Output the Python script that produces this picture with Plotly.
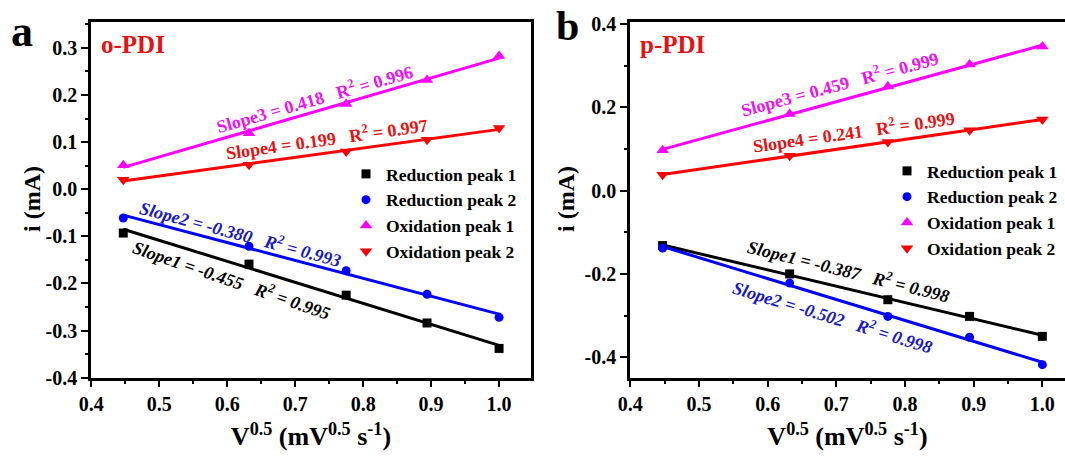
import numpy as np
import plotly.graph_objects as go

FONT = "Liberation Serif"

# ---------------- data ----------------
x_v = [0.447, 0.632, 0.775, 0.894, 1.000]

series_names = ["Reduction peak 1", "Reduction peak 2", "Oxidation peak 1", "Oxidation peak 2"]
series_colors = ["#000000", "#0000FF", "#FF00FF", "#FF0000"]
series_symbols = ["square", "circle", "triangle-up", "triangle-down"]

# panel a : o-PDI
a_red1 = [-0.093, -0.159, -0.225, -0.284, -0.338]
a_red2 = [-0.061, -0.121, -0.173, -0.223, -0.272]
a_ox1 = [0.051, 0.119, 0.181, 0.232, 0.283]
a_ox2 = [0.020, 0.052, 0.080, 0.105, 0.130]

# panel b : p-PDI
b_red1 = [-0.132, -0.200, -0.262, -0.302, -0.350]
b_red2 = [-0.138, -0.222, -0.302, -0.352, -0.418]
b_ox1 = [0.097, 0.184, 0.250, 0.303, 0.346]
b_ox2 = [0.038, 0.084, 0.117, 0.145, 0.171]

x_tickvals = [0.4, 0.5, 0.6, 0.7, 0.8, 0.9, 1.0]
x_ticktext = ["0.4", "0.5", "0.6", "0.7", "0.8", "0.9", "1.0"]
a_ytickvals = [-0.4, -0.3, -0.2, -0.1, 0.0, 0.1, 0.2, 0.3]
a_yticktext = ["-0.4", "-0.3", "-0.2", "-0.1", "0.0", "0.1", "0.2", "0.3"]
b_ytickvals = [-0.4, -0.2, 0.0, 0.2, 0.4]
b_yticktext = ["-0.4", "-0.2", "0.0", "0.2", "0.4"]

a_fit_labels = ["Slope1 = -0.455", "Slope2 = -0.380", "Slope3 = 0.418", "Slope4 = 0.199"]
a_r2 = ["0.995", "0.993", "0.996", "0.997"]
b_fit_labels = ["Slope1 = -0.387", "Slope2 = -0.502", "Slope3 = 0.459", "Slope4 = 0.241"]
b_r2 = ["0.998", "0.998", "0.999", "0.999"]

x_title = "V<sup>0.5</sup> (mV<sup>0.5</sup> s<sup>-1</sup>)"
y_title = "i (mA)"

# ---------------- geometry helpers (pixels -> plot-area fractions) ----------------
W, H = 1065, 456
M_T, M_B = 22, 78
PH = H - M_T - M_B


def py(px):
    return 1 - (px - M_T) / PH


def pxx(px):
    return px / W


# ---------------- figure ----------------
fig = go.Figure()

panels = [
    ("x", "y", "legend", [a_red1, a_red2, a_ox1, a_ox2]),
    ("x2", "y2", "legend2", [b_red1, b_red2, b_ox1, b_ox2]),
]

for xa, ya, leg, ser in panels:
    for name, col, sym, yv in zip(series_names, series_colors, series_symbols, ser):
        k, b = np.polyfit(x_v, yv, 1)
        xf = np.array([x_v[0], x_v[-1]])
        fig.add_trace(go.Scatter(x=xf, y=k * xf + b, mode="lines",
                                 line=dict(color=col, width=3),
                                 xaxis=xa, yaxis=ya, showlegend=False,
                                 hoverinfo="skip"))
    for name, col, sym, yv in zip(series_names, series_colors, series_symbols, ser):
        size = 11 if "triangle" in sym else 9
        fig.add_trace(go.Scatter(x=x_v, y=yv, mode="markers", name=name,
                                 marker=dict(color=col, symbol=sym, size=size),
                                 xaxis=xa, yaxis=ya, legend=leg))

tickfont = dict(family=FONT, size=20, color="black", weight="bold")
titlefont = dict(family=FONT, size=24, color="black", weight="bold")
xtitlefont = dict(family=FONT, size=26, color="black", weight="bold")


def xaxis_cfg(domain, rng):
    return dict(domain=domain, range=rng,
                tickmode="array", tickvals=x_tickvals, ticktext=x_ticktext,
                ticks="outside", ticklen=6, tickwidth=2, tickcolor="black",
                minor=dict(tickmode="linear", tick0=0.4, dtick=0.05, ticks="outside",
                           ticklen=3, tickwidth=2, tickcolor="black"),
                showline=True, linewidth=2.5, linecolor="black", mirror=True,
                showgrid=False, zeroline=False, tickfont=tickfont,
                title=dict(text=x_title, font=xtitlefont, standoff=14),
                automargin=False)


def yaxis_cfg(rng, tv, tt, mdt, mirror):
    return dict(domain=[0, 1], range=rng,
                tickmode="array", tickvals=tv, ticktext=tt,
                ticks="outside", ticklen=7, tickwidth=2, tickcolor="black",
                minor=dict(tickmode="linear", tick0=0, dtick=mdt, ticks="outside",
                           ticklen=3, tickwidth=2, tickcolor="black"),
                showline=True, linewidth=2.5, linecolor="black", mirror=mirror,
                showgrid=False, zeroline=False, tickfont=tickfont,
                automargin=False)


xa1 = xaxis_cfg([91 / W, 531 / W], [0.3995, 1.047])
xa1["anchor"] = "y"
xa2 = xaxis_cfg([630 / W, 1.0], [0.3995, 1.033])
xa2["anchor"] = "y2"
ya1 = yaxis_cfg([-0.4008, 0.355], a_ytickvals, a_yticktext, 0.05, True)
ya1["anchor"] = "x"
ya2 = yaxis_cfg([-0.45, 0.405], b_ytickvals, b_yticktext, 0.1, False)
ya2["anchor"] = "x2"

legfont = dict(family=FONT, size=17.5, color="black", weight="bold")

fig.update_layout(
    width=W, height=H,
    margin=dict(l=0, r=0, t=M_T, b=M_B, autoexpand=False),
    paper_bgcolor="white", plot_bgcolor="white",
    xaxis=xa1, yaxis=ya1, xaxis2=xa2, yaxis2=ya2,
    legend=dict(x=pxx(346), y=py(156), xanchor="left", yanchor="top",
                bgcolor="rgba(0,0,0,0)", font=legfont, borderwidth=0),
    legend2=dict(x=pxx(887), y=py(153), xanchor="left", yanchor="top",
                 bgcolor="rgba(0,0,0,0)", font=legfont, borderwidth=0),
    showlegend=True,
)

# ---------------- annotations ----------------
ann = []


def fit_ann(text, r2, xd, yd, ang, color, italic, xr, yr):
    body = f"{text}&nbsp;&nbsp;&nbsp;R<sup>2</sup> = {r2}"
    if italic:
        body = f"<i>{body}</i>"
    return dict(text=body, x=xd, y=yd, xref=xr, yref=yr, showarrow=False,
                textangle=ang, xanchor="center", yanchor="middle",
                font=dict(family=FONT, size=18, color=color, weight="bold"))


# panel a
ann.append(fit_ann(a_fit_labels[2], a_r2[2], 0.729, 0.192, -16, "#F010F0", False, "x", "y"))
ann.append(fit_ann(a_fit_labels[3], a_r2[3], 0.746, 0.108, -8, "#E81010", False, "x", "y"))
ann.append(fit_ann(a_fit_labels[1], a_r2[1], 0.620, -0.093, 15, "#1818C8", True, "x", "y"))
ann.append(fit_ann(a_fit_labels[0], a_r2[0], 0.606, -0.192, 19, "#000000", True, "x", "y"))
# panel b
ann.append(fit_ann(b_fit_labels[2], b_r2[2], 0.705, 0.258, -15, "#F010F0", False, "x2", "y2"))
ann.append(fit_ann(b_fit_labels[3], b_r2[3], 0.725, 0.142, -8, "#E81010", False, "x2", "y2"))
ann.append(fit_ann(b_fit_labels[0], b_r2[0], 0.717, -0.192, 14, "#000000", True, "x2", "y2"))
ann.append(fit_ann(b_fit_labels[1], b_r2[1], 0.694, -0.303, 17, "#1818C8", True, "x2", "y2"))

# y-axis titles
for xpix in (32, 566):
    ann.append(dict(text=y_title, x=pxx(xpix), y=py(199), xref="paper", yref="paper",
                    xanchor="center", yanchor="middle", textangle=-90, showarrow=False,
                    font=titlefont))

# sample labels
ann.append(dict(text="o-PDI", x=pxx(99), y=py(44), xref="paper", yref="paper",
                xanchor="left", yanchor="middle", showarrow=False,
                font=dict(family=FONT, size=25, color="#E81010", weight="bold")))
ann.append(dict(text="p-PDI", x=pxx(638), y=py(44), xref="paper", yref="paper",
                xanchor="left", yanchor="middle", showarrow=False,
                font=dict(family=FONT, size=25, color="#E81010", weight="bold")))
# panel letters
ann.append(dict(text="a", x=pxx(22), y=py(32), xref="paper", yref="paper",
                xanchor="center", yanchor="middle", showarrow=False,
                font=dict(family=FONT, size=44, color="black", weight="bold")))
ann.append(dict(text="b", x=pxx(567), y=py(26), xref="paper", yref="paper",
                xanchor="center", yanchor="middle", showarrow=False,
                font=dict(family=FONT, size=42, color="black", weight="bold")))

fig.update_layout(annotations=ann)

fig.write_html(
    "out.html",
    config={"displayModeBar": False},
    post_script="document.body.style.margin='0';document.body.style.padding='0';"
                "document.body.style.overflow='hidden';",
)
